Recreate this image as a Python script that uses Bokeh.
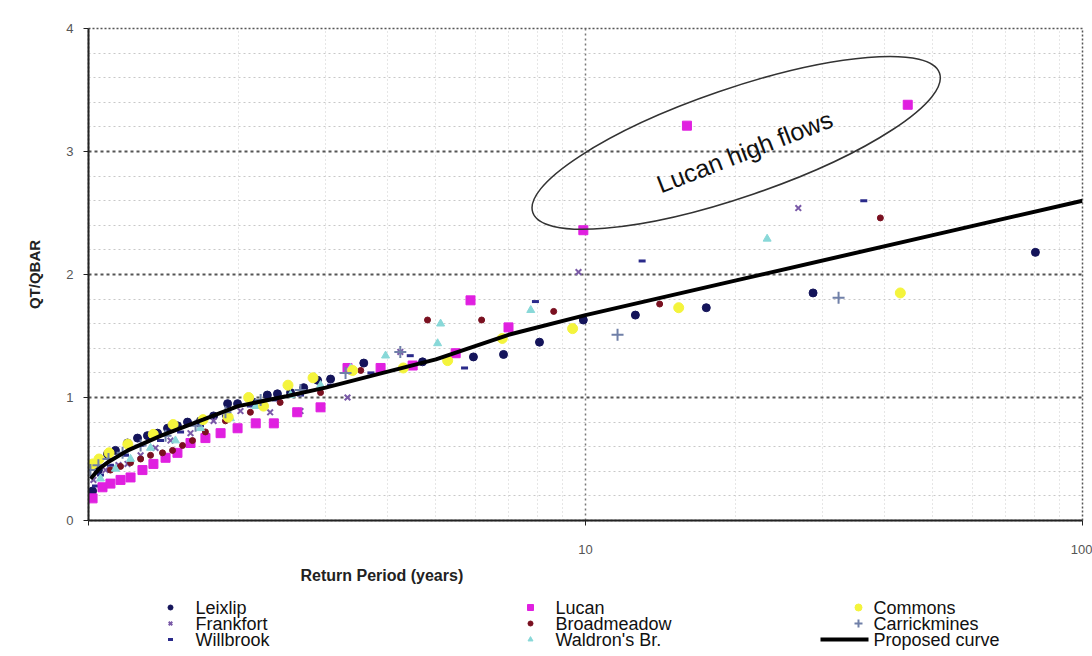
from bokeh.plotting import figure
from bokeh.layouts import column
from bokeh.models import (FixedTicker, Label, Range1d, Title)
from bokeh.core.properties import value
from bokeh.embed import file_html
from bokeh.resources import INLINE

# ---------------- data (return period T in years, QT/QBAR) ----------------
leixlip_T = [1.019, 1.047, 1.092, 1.133, 1.198, 1.255, 1.314, 1.377, 1.442, 1.510, 1.582, 1.680,
             1.785, 1.905, 1.995, 2.148, 2.29, 2.40, 2.55, 2.71, 2.89, 3.07, 3.37, 3.58, 4.70,
             5.95, 6.84, 8.08, 9.9, 12.6, 17.5, 28.7, 80.4]
leixlip_Q = [0.24, 0.41, 0.54, 0.57, 0.63, 0.67, 0.69, 0.71, 0.75, 0.77, 0.80, 0.81,
             0.85, 0.95, 0.95, 0.96, 1.02, 1.03, 1.04, 1.08, 1.14, 1.15, 1.22, 1.28, 1.29,
             1.33, 1.35, 1.45, 1.63, 1.67, 1.73, 1.85, 2.18]

frankfort_T = [1.023, 1.082, 1.149, 1.198, 1.273, 1.364, 1.462, 1.604, 1.785, 2.022, 2.32, 2.67,
               3.32, 4.24, 9.68, 26.8]
frankfort_Q = [0.33, 0.41, 0.45, 0.46, 0.53, 0.59, 0.65, 0.71, 0.81, 0.89, 0.88, 0.89,
               1.00, 1.37, 2.02, 2.54]

willbrook_T = [1.033, 1.057, 1.107, 1.187, 1.273, 1.396, 1.532, 1.680, 1.886, 2.117, 2.38, 2.67,
               3.07, 3.70, 4.44, 5.71, 7.93, 13.0, 36.3]
willbrook_Q = [0.28, 0.37, 0.45, 0.53, 0.61, 0.65, 0.72, 0.77, 0.85, 0.93, 0.98, 1.02,
               1.10, 1.20, 1.34, 1.24, 1.78, 2.11, 2.60]

lucan_T = [1.019, 1.067, 1.107, 1.160, 1.215, 1.284, 1.351, 1.429, 1.510, 1.604, 1.719, 1.844,
           1.995, 2.17, 2.36, 2.63, 2.93, 3.32, 3.87, 4.49, 5.48, 5.87, 7.0, 9.9, 16.0, 44.5]
lucan_Q = [0.18, 0.27, 0.30, 0.33, 0.35, 0.41, 0.46, 0.51, 0.55, 0.63, 0.67, 0.71,
           0.75, 0.79, 0.79, 0.88, 0.92, 1.24, 1.24, 1.26, 1.36, 1.79, 1.57, 2.36, 3.21, 3.38]

broadmeadow_T = [1.107, 1.160, 1.215, 1.273, 1.333, 1.409, 1.476, 1.546, 1.619, 1.719, 1.886,
                 2.117, 2.43, 2.93, 3.53, 4.81, 6.18, 8.63, 14.1, 39.2]
broadmeadow_Q = [0.41, 0.44, 0.47, 0.50, 0.53, 0.55, 0.57, 0.61, 0.65, 0.72, 0.81,
                 0.88, 0.96, 1.04, 1.22, 1.63, 1.63, 1.70, 1.76, 2.46]

waldron_T = [1.057, 1.133, 1.215, 1.333, 1.496, 1.680, 1.930, 2.17, 2.55, 2.93, 3.37, 3.96,
             5.04, 5.11, 7.76, 23.2]
waldron_Q = [0.34, 0.42, 0.50, 0.59, 0.65, 0.75, 0.83, 0.93, 1.02, 1.10, 1.24, 1.34,
             1.44, 1.60, 1.71, 2.29]

commons_T = [1.02, 1.05, 1.10, 1.2, 1.35, 1.48, 1.7, 1.91, 2.10, 2.25, 2.52, 2.83, 3.4, 4.30,
             5.28, 6.8, 9.42, 15.4, 43.0]
commons_Q = [0.46, 0.50, 0.55, 0.62, 0.70, 0.78, 0.82, 0.84, 1.00, 0.93, 1.10, 1.16, 1.22, 1.24,
             1.30, 1.48, 1.56, 1.73, 1.85]

carrick_T = [1.009, 1.047, 1.097, 1.171, 1.273, 1.429, 1.642, 1.886, 2.22, 2.67, 3.29, 4.24,
             11.6, 32.3]
carrick_Q = [0.41, 0.45, 0.50, 0.55, 0.61, 0.69, 0.77, 0.88, 0.98, 1.06, 1.20, 1.37,
             1.51, 1.81]

curve_T = [1.01, 1.05, 1.1, 1.2, 1.4, 1.7, 2.0, 2.5, 3.0, 4.0, 5.0, 7.0, 10.0, 20.0, 50.0, 100.0]
curve_Q = [0.34, 0.42, 0.48, 0.57, 0.69, 0.82, 0.93, 1.01, 1.08, 1.21, 1.31, 1.51, 1.67, 1.95,
           2.32, 2.60]

x_major_ticks = [1, 10, 100]
x_tick_labels = {1: " ", 10: "10", 100: "100"}
y_major_ticks = [0, 1, 2, 3, 4]

series_names = ["Leixlip", "Frankfort", "Willbrook", "Lucan", "Broadmeadow", "Waldron's Br.",
                "Commons", "Carrickmines"]
curve_name = "Proposed curve"

FONT = "Liberation Sans"

# ---------------- style per series ----------------
STYLES = {
    "Leixlip": dict(marker="circle", size=8, fill_color="#14145a", line_color="#14145a"),
    "Frankfort": dict(marker="x", size=8, line_color="#7a5aa8", line_width=2),
    "Willbrook": dict(marker="dash", size=7, line_color="#2a2a8a", line_width=3),
    "Lucan": dict(marker="square", size=9, fill_color="#e020e0", line_color="#e020e0"),
    "Broadmeadow": dict(marker="circle", size=6, fill_color="#7a1020", line_color="#7a1020"),
    "Waldron's Br.": dict(marker="triangle", size=8, fill_color="#88d8d8", line_color="#88d8d8"),
    "Commons": dict(marker="circle", size=10, fill_color="#f4f43c", line_color="#f4f43c"),
    "Carrickmines": dict(marker="cross", size=12, line_color="#7080a8", line_width=2),
}

p = figure(width=1092, height=596, x_axis_type="log",
           x_range=Range1d(1, 100), y_range=Range1d(0, 4),
           output_backend="svg", toolbar_location=None,
           min_border_left=88, min_border_right=10, min_border_top=28, min_border_bottom=76)
p.background_fill_color = "white"
p.border_fill_color = "white"
p.outline_line_color = "#555555"
p.outline_line_dash = "2 2"
p.outline_line_width = 1.5

# axes
p.xaxis.ticker = FixedTicker(ticks=x_major_ticks,
                             minor_ticks=[2, 3, 4, 5, 6, 7, 8, 9, 20, 30, 40, 50, 60, 70, 80, 90])
p.xaxis.major_label_overrides = x_tick_labels
p.yaxis.ticker = FixedTicker(ticks=y_major_ticks,
                             minor_ticks=[0.2, 0.4, 0.6, 0.8, 1.2, 1.4, 1.6, 1.8, 2.2, 2.4, 2.6,
                                          2.8, 3.2, 3.4, 3.6, 3.8])
for ax in (p.xaxis[0], p.yaxis[0]):
    ax.axis_line_color = "#222222"
    ax.axis_line_width = 2
    ax.major_tick_line_color = "#222222"
    ax.major_tick_in = 0
    ax.major_tick_out = 5
    ax.minor_tick_line_color = None
    ax.major_label_text_font = FONT
    ax.major_label_text_font_size = "13px"
    ax.major_label_text_color = "#555555"
p.xaxis.major_label_standoff = 16
p.yaxis.major_label_standoff = 10

p.yaxis.axis_label = "QT/QBAR"
p.yaxis.axis_label_text_font = FONT
p.yaxis.axis_label_text_font_style = "bold"
p.yaxis.axis_label_text_font_size = "15px"
p.yaxis.axis_label_text_color = "#222222"
p.yaxis.axis_label_standoff = 20

# x axis title, placed off-centre as in the reference
p.add_layout(Title(text="Return Period (years)", align="left", offset=212,
                   text_font=FONT, text_font_style="bold", text_font_size="16px",
                   text_color="#222222", standoff=10), "below")

# grids
p.xgrid.grid_line_color = "#777777"
p.xgrid.grid_line_dash = "2 3"
p.xgrid.grid_line_width = 1.5
p.xgrid.minor_grid_line_color = "#cccccc"
p.xgrid.minor_grid_line_dash = "1 3"
p.ygrid.grid_line_color = "#555555"
p.ygrid.grid_line_dash = "3 3"
p.ygrid.grid_line_width = 2
p.ygrid.minor_grid_line_color = "#c8c8c8"
p.ygrid.minor_grid_line_dash = "2 3"

# series
series_data = [
    (leixlip_T, leixlip_Q), (frankfort_T, frankfort_Q), (willbrook_T, willbrook_Q),
    (lucan_T, lucan_Q), (broadmeadow_T, broadmeadow_Q), (waldron_T, waldron_Q),
    (commons_T, commons_Q), (carrick_T, carrick_Q),
]
for name, (t, q) in zip(series_names, series_data):
    p.scatter(t, q, **STYLES[name])
p.line(curve_T, curve_Q, line_color="black", line_width=4)

# annotation ellipse & text
p.ellipse(x=[20.1], y=[3.07], width=[430], height=[108], angle=[0.33],
          width_units="screen", height_units="screen",
          fill_color=None, line_color="#333333", line_width=1.5)
p.add_layout(Label(x=20.9, y=3.0, text="Lucan high flows", angle=0.37,
                   text_align="center", text_baseline="middle",
                   text_font=FONT, text_font_size="25px", text_color="#111111"))

# ---------------- legend strip below (pixel coordinates) ----------------
lf = figure(width=1092, height=60, x_range=Range1d(88, 1082), y_range=Range1d(656, 596),
            output_backend="svg", toolbar_location=None,
            min_border_left=88, min_border_right=10, min_border_top=0, min_border_bottom=0)
lf.axis.visible = False
lf.grid.visible = False
lf.outline_line_color = None
lf.background_fill_color = "white"
lf.border_fill_color = "white"

col_marker_x = [170, 530, 858]
col_text_x = [195, 555, 873]
row_y = [607, 623, 639]
legend_names = series_names + [curve_name]
lx, ly, lt = [], [], []
for i, name in enumerate(legend_names):
    c, r = divmod(i, 3)
    if name in STYLES:
        st = dict(STYLES[name])
        st["size"] = max(5, int(st["size"] * 0.7))
        lf.scatter([col_marker_x[c]], [row_y[r]], **st)
    else:
        lf.segment(x0=[820], y0=[row_y[r]], x1=[868], y1=[row_y[r]],
                   line_color="black", line_width=4)
    lx.append(col_text_x[c])
    ly.append(row_y[r])
    lt.append(name)
lf.text(x=lx, y=ly, text=lt, text_font=value(FONT), text_font_size="18px",
        text_baseline="middle", text_align="left", text_color="#111111")

layout = column(p, lf, spacing=0)
open("out.html", "w").write(file_html(layout, INLINE))
